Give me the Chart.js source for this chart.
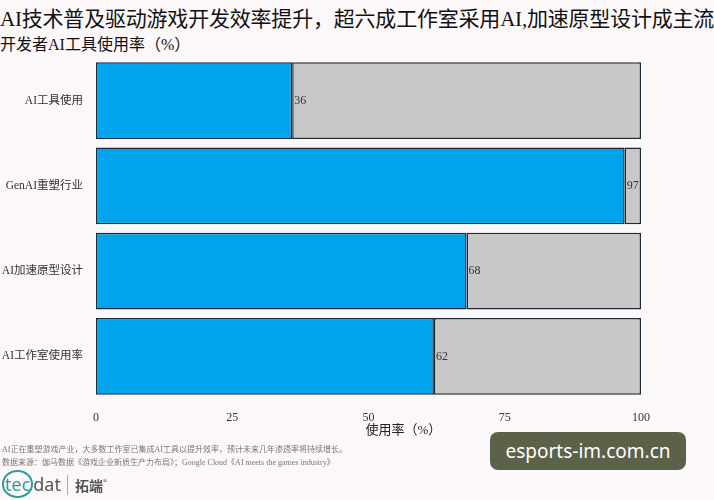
<!DOCTYPE html>
<html lang="zh">
<head>
<meta charset="UTF-8" />
<title>开发者AI工具使用率</title>
<script src="https://cdn.jsdelivr.net/npm/chart.js"></script>
<style>
  body { margin: 0; background: #fcf8fa; font-family: "Liberation Serif", "Noto Sans CJK SC", serif; }
  #wrap { position: relative; width: 714px; height: 500px; overflow: hidden; }
  #chart { position: absolute; left: 0; top: 0; }
  .t1 { position: absolute; left: 0; top: 2px; font-size: 21px; color: #111; white-space: nowrap; letter-spacing: -0.2px; }
  .t2 { position: absolute; left: 0; top: 31px; font-size: 16px; color: #111; white-space: nowrap; }
  .note { position: absolute; left: 2px; font-size: 8px; color: #777; white-space: nowrap; }
  .logo { position: absolute; left: 2px; top: 470px; font-family: "Noto Sans", sans-serif; font-size: 18px; color: #555; }
  .logo b { display: inline-block; border: 2px solid #2d9c9a; border-radius: 50%; padding: 0 1px; color: #2d9c9a; font-weight: normal; }
  .logo span { font-family: "Noto Sans CJK SC"; font-size: 14px; font-weight: bold; border-left: 1px solid #aaa; padding-left: 7px; margin-left: 6px; }
  .mark { position: absolute; left: 490px; top: 432px; width: 196px; height: 38px; background: #5c6149; border-radius: 8px;
          color: #fff; font-family: "Noto Sans", sans-serif; font-size: 19px; line-height: 38px; text-align: center; }
</style>
</head>
<body>
<div id="wrap">
  <div class="t1">AI技术普及驱动游戏开发效率提升，超六成工作室采用AI,加速原型设计成主流</div>
  <div class="t2">开发者AI工具使用率（%）</div>
  <canvas id="chart" width="714" height="500"></canvas>
  <div class="note" style="top:443px">AI正在重塑游戏产业，大多数工作室已集成AI工具以提升效率，预计未来几年渗透率将持续增长。</div>
  <div class="note" style="top:456px">数据来源：伽马数据《游戏企业新质生产力布局》；Google Cloud《AI meets the games industry》</div>
  <div class="logo"><b>tec</b>dat<span>拓端<sup style="font-size:8px;font-weight:normal">®</sup></span></div>
  <div class="mark">esports-im.com.cn</div>
</div>
<script>
  // data
  const categories = ['AI工具使用', 'GenAI重塑行业', 'AI加速原型设计', 'AI工作室使用率'];
  const usage = [36, 97, 68, 62];
  const rest = usage.map(v => 100 - v);
  const xTicks = [0, 25, 50, 75, 100];

  const fontFamily = '"Liberation Serif", "Noto Sans CJK SC", serif';

  // value labels right after the blue part + axis title starting at 50
  const extras = {
    id: 'extras',
    afterDatasetsDraw(chart) {
      const ctx = chart.ctx;
      const meta = chart.getDatasetMeta(0);
      ctx.save();
      ctx.font = '12px ' + fontFamily;
      ctx.fillStyle = '#333';
      ctx.textAlign = 'left';
      ctx.textBaseline = 'middle';
      meta.data.forEach((bar, i) => {
        ctx.fillText(String(usage[i]), bar.x + 2, bar.y);
      });
      const x = chart.scales.x;
      ctx.font = '13px ' + fontFamily;
      ctx.fillStyle = '#222';
      ctx.textBaseline = 'top';
      ctx.fillText('使用率（%）', x.getPixelForValue(50) - 3, 424);
      ctx.restore();
    }
  };

  new Chart(document.getElementById('chart'), {
    type: 'bar',
    data: {
      labels: categories,
      datasets: [
        { data: usage, backgroundColor: '#00a3ec', borderColor: '#1b2a36', borderWidth: 1.5, borderSkipped: false,
          barPercentage: 0.9, categoryPercentage: 1 },
        { data: rest, backgroundColor: '#c8c8c8', borderColor: '#1b2a36', borderWidth: 1.5, borderSkipped: false,
          barPercentage: 0.9, categoryPercentage: 1 }
      ]
    },
    options: {
      indexAxis: 'y',
      responsive: false,
      animation: false,
      layout: { padding: { top: 58, right: 73, left: 0, bottom: 0 } },
      plugins: { legend: { display: false }, tooltip: { enabled: false } },
      scales: {
        x: {
          stacked: true, min: 0, max: 100,
          afterBuildTicks: s => { s.ticks = xTicks.map(v => ({ value: v })); },
          afterFit: s => { s.height = 101; },
          grid: { display: false }, border: { display: false },
          ticks: { padding: 4, color: '#333', font: { family: fontFamily, size: 12 } }
        },
        y: {
          stacked: true,
          afterFit: s => { s.width = 96; },
          grid: { display: false }, border: { display: false },
          ticks: { padding: 5, color: '#333', font: { family: fontFamily, size: 11.5 } }
        }
      }
    },
    plugins: [extras]
  });
</script>
</body>
</html>
